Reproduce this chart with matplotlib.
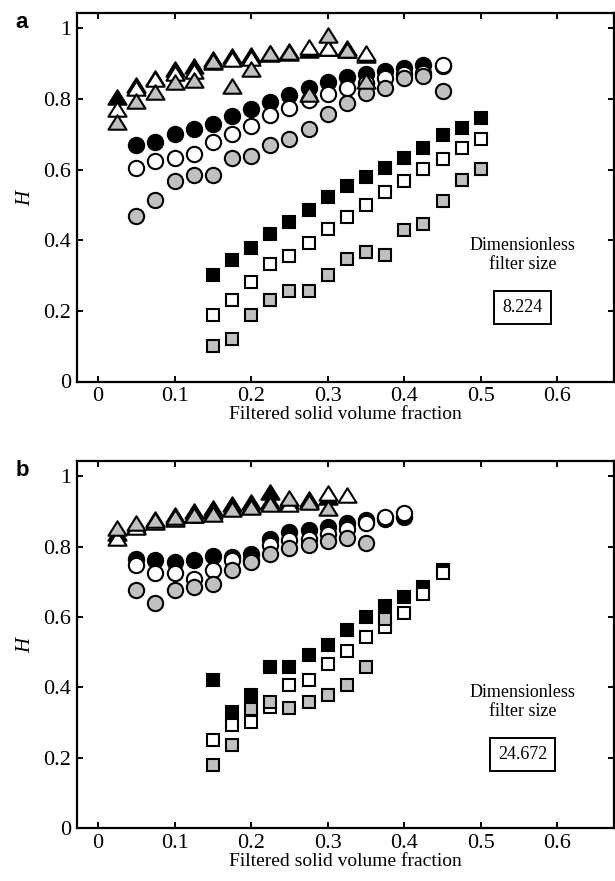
import matplotlib
matplotlib.use("Agg")
import matplotlib.pyplot as plt
from matplotlib.path import Path

plt.rcParams["font.family"] = ["Liberation Serif", "DejaVu Serif"]
plt.rcParams["mathtext.fontset"] = "custom"
plt.rcParams["mathtext.it"] = "Liberation Serif:italic"

GRAY = "#c0c0c0"

# ---- panel a (filter size 8.224) ----
A_TRI_X = [0.025, 0.05, 0.075, 0.1, 0.125, 0.15, 0.175, 0.2, 0.225, 0.25, 0.275, 0.3, 0.325, 0.35]
A_TRI_BLACK = [0.806, 0.840, 0.860, 0.884, 0.893, 0.912, 0.922, 0.926, 0.930, 0.935, 0.940, 0.945, 0.940, 0.925]
A_TRI_WHITE = [0.773, 0.830, 0.857, 0.874, 0.879, 0.905, 0.912, 0.917, 0.928, 0.930, 0.947, 0.945, 0.945, 0.931]
A_TRI_GRAY = [0.736, 0.794, 0.820, 0.848, 0.855, 0.907, 0.838, 0.886, 0.931, 0.934, 0.813, 0.980, 0.940, 0.851]

A_CIR_X = [0.05, 0.075, 0.1, 0.125, 0.15, 0.175, 0.2, 0.225, 0.25, 0.275, 0.3, 0.325, 0.35, 0.375, 0.4, 0.425, 0.45]
A_CIR_BLACK = [0.669, 0.678, 0.700, 0.716, 0.728, 0.752, 0.771, 0.791, 0.811, 0.832, 0.848, 0.863, 0.871, 0.879, 0.889, 0.895, 0.893]
A_CIR_WHITE = [0.605, 0.624, 0.634, 0.645, 0.678, 0.700, 0.723, 0.754, 0.774, 0.797, 0.815, 0.832, 0.845, 0.860, 0.870, 0.875, 0.895]
A_CIR_GRAY = [0.470, 0.514, 0.567, 0.584, 0.586, 0.634, 0.638, 0.669, 0.687, 0.715, 0.757, 0.790, 0.818, 0.830, 0.860, 0.865, 0.822]

A_SQ_X = [0.15, 0.175, 0.2, 0.225, 0.25, 0.275, 0.3, 0.325, 0.35, 0.375, 0.4, 0.425, 0.45, 0.475, 0.5]
A_SQ_BLACK = [0.301, 0.343, 0.377, 0.419, 0.452, 0.485, 0.523, 0.553, 0.580, 0.605, 0.634, 0.662, 0.697, 0.719, 0.747]
A_SQ_WHITE = [0.187, 0.230, 0.281, 0.334, 0.355, 0.393, 0.433, 0.467, 0.501, 0.536, 0.567, 0.601, 0.629, 0.660, 0.686]
A_SQ_GRAY = [0.100, 0.121, 0.188, 0.232, 0.256, 0.256, 0.303, 0.346, 0.366, 0.357, 0.428, 0.445, 0.511, 0.572, 0.601]

# ---- panel b (filter size 24.672) ----
B_TRI_X = [0.025, 0.05, 0.075, 0.1, 0.125, 0.15, 0.175, 0.2, 0.225, 0.25, 0.275, 0.3, 0.325]
B_TRI_BLACK = [0.840, 0.860, 0.880, 0.890, 0.900, 0.910, 0.920, 0.928, 0.955, 0.930, 0.935, 0.940]
B_TRI_WHITE = [0.826, 0.855, 0.870, 0.880, 0.890, 0.900, 0.910, 0.915, 0.930, 0.920, 0.930, 0.953, 0.946]
B_TRI_GRAY = [0.854, 0.866, 0.875, 0.883, 0.889, 0.894, 0.908, 0.913, 0.922, 0.937, 0.927, 0.910]

B_CIR_X = [0.05, 0.075, 0.1, 0.125, 0.15, 0.175, 0.2, 0.225, 0.25, 0.275, 0.3, 0.325, 0.35, 0.375, 0.4]
B_CIR_BLACK = [0.766, 0.761, 0.757, 0.763, 0.773, 0.770, 0.780, 0.823, 0.842, 0.847, 0.856, 0.866, 0.875, 0.880, 0.884]
B_CIR_WHITE = [0.747, 0.724, 0.725, 0.709, 0.735, 0.761, 0.763, 0.806, 0.818, 0.823, 0.837, 0.850, 0.866, 0.884, 0.897]
B_CIR_GRAY = [0.678, 0.640, 0.676, 0.684, 0.693, 0.735, 0.755, 0.780, 0.797, 0.805, 0.815, 0.824, 0.809]

B_SQ_X = [0.15, 0.175, 0.2, 0.225, 0.25, 0.275, 0.3, 0.325, 0.35, 0.375, 0.4, 0.425, 0.45]
B_SQ_BLACK = [0.422, 0.330, 0.378, 0.457, 0.457, 0.493, 0.520, 0.563, 0.599, 0.631, 0.657, 0.686, 0.733]
B_SQ_WHITE = [0.250, 0.293, 0.302, 0.345, 0.406, 0.422, 0.465, 0.504, 0.544, 0.572, 0.612, 0.664, 0.726]
B_SQ_GRAY = [0.179, 0.236, 0.337, 0.359, 0.340, 0.359, 0.378, 0.406, 0.457, 0.593]

X_TICKS = [0, 0.1, 0.2, 0.3, 0.4, 0.5, 0.6]
X_TICKLABELS = ["0", "0.1", "0.2", "0.3", "0.4", "0.5", "0.6"]
Y_TICKS = [0, 0.2, 0.4, 0.6, 0.8, 1.0]
Y_TICKLABELS = ["0", "0.2", "0.4", "0.6", "0.8", "1"]

# wide, flat triangle like the MATLAB '^' marker
TRI = Path([(0, 0.8), (-1, -0.8), (1, -0.8), (0, 0.8)],
           [Path.MOVETO, Path.LINETO, Path.LINETO, Path.CLOSEPOLY])

FILLS = ["black", "white", GRAY]


def draw_panel(ax, groups, letter, filter_size):
    for x, series, marker, ms in groups:
        for y, fc in zip(series, FILLS):
            ax.plot(x[:len(y)], y, linestyle="none", marker=marker, ms=ms,
                    mfc=fc, mec="black", mew=1.5)

    ax.set_xlim(-0.0275, 0.674)
    ax.set_ylim(0, 1.045)
    ax.set_xticks(X_TICKS)
    ax.set_xticklabels(X_TICKLABELS)
    ax.set_yticks(Y_TICKS)
    ax.set_yticklabels(Y_TICKLABELS)
    ax.tick_params(direction="in", length=4, width=1.4, top=True, right=True,
                   labelsize=16, pad=4)
    for sp in ax.spines.values():
        sp.set_linewidth(1.6)

    ax.set_xlabel("Filtered solid volume fraction", fontsize=14, labelpad=0)
    ax.set_ylabel("$H$", fontsize=15, labelpad=6)

    ax.text(0.83, 0.343, "Dimensionless\nfilter size", transform=ax.transAxes,
            ha="center", va="center", fontsize=13, linespacing=1.1)
    ax.text(0.83, 0.20, filter_size, transform=ax.transAxes,
            ha="center", va="center", fontsize=13,
            bbox=dict(boxstyle="square,pad=0.45", fc="white", ec="black", lw=1.4))

    ax.text(-0.115, 1.0, letter, transform=ax.transAxes, ha="left", va="top",
            fontsize=16, fontweight="bold", family="Liberation Sans")


fig = plt.figure(figsize=(6.15, 8.81), dpi=100)
ax_a = fig.add_axes([77 / 615, (881 - 381.5) / 881, 537 / 615, 369 / 881])
ax_b = fig.add_axes([77 / 615, (881 - 828) / 881, 537 / 615, 367.5 / 881])

draw_panel(ax_a, [
    (A_CIR_X, [A_CIR_BLACK, A_CIR_WHITE, A_CIR_GRAY], "o", 11),
    (A_TRI_X, [A_TRI_BLACK, A_TRI_WHITE, A_TRI_GRAY], TRI, 13),
    (A_SQ_X, [A_SQ_BLACK, A_SQ_WHITE, A_SQ_GRAY], "s", 9),
], "a", "8.224")

draw_panel(ax_b, [
    (B_CIR_X, [B_CIR_BLACK, B_CIR_WHITE, B_CIR_GRAY], "o", 11),
    (B_TRI_X, [B_TRI_BLACK, B_TRI_WHITE, B_TRI_GRAY], TRI, 13),
    (B_SQ_X, [B_SQ_BLACK, B_SQ_WHITE, B_SQ_GRAY], "s", 9),
], "b", "24.672")

fig.savefig("out.png", dpi=100)
